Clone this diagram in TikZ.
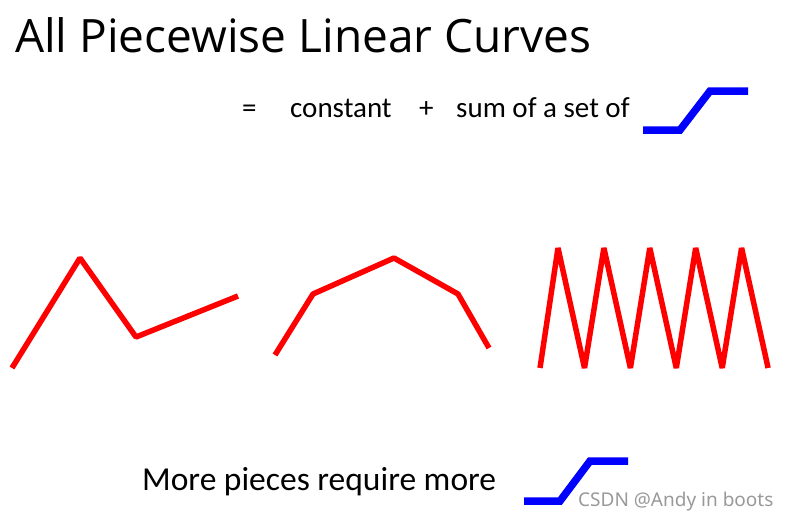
\documentclass[tikz,border=0pt]{standalone}
\usepackage{fontspec}
\setmainfont{Carlito}
\newfontfamily\titlefont{Open Sans}
\newfontfamily\markfont{Noto Sans}
\usetikzlibrary{positioning}

\tikzset{
  curve/.style={red, line width=5.5pt, line join=bevel},
  stepfn/.style={blue, line width=7.5pt},
  txt/.style={anchor=base west, inner sep=0pt, font=\fontsize{29}{33}\selectfont}
}

\begin{document}
\begin{tikzpicture}[x=1pt,y=-1pt]
    \useasboundingbox (0,0) rectangle (790,522);
    % heading
    \node[anchor=base west, inner sep=0pt, font=\titlefont\fontsize{46}{52}\selectfont] (title) at (15,52) {All Piecewise Linear Curves};
    \node[txt] (eq) at (242,117) {=};
    \node[txt] (const) at (290,117) {constant};
    \node[txt] (plus) at (419,117) {+};
    \node[txt] (sum) at (456,117) {sum of a set of};
    % step at the top
    \draw[stepfn] (643,130) -- (680,130) -- (710,91) -- (748,91);
    % three example curves
    \draw[curve] (12,368) -- (80,258) -- (136,337) -- (238,296);
    \draw[curve] (275,355) -- (313,294) -- (394,258) -- (458,294) -- (489,348);
    \draw[curve] (540,368)
        \foreach \k in {0,...,4} { -- ({558+45.9*\k},248) -- ({584.5+45.9*\k},368) };
    % bottom line
    \node[txt, font=\fontsize{33.5}{38}\selectfont] (more) at (142,490) {More pieces require more};
    \draw[stepfn] (524,501) -- (560,501) -- (590,461) -- (628,461);
    \node[anchor=base west, inner sep=0pt, text=gray!80, font=\markfont\fontsize{19}{22}\selectfont] (mark) at (578,506) {CSDN @Andy in boots};
\end{tikzpicture}
\end{document}
